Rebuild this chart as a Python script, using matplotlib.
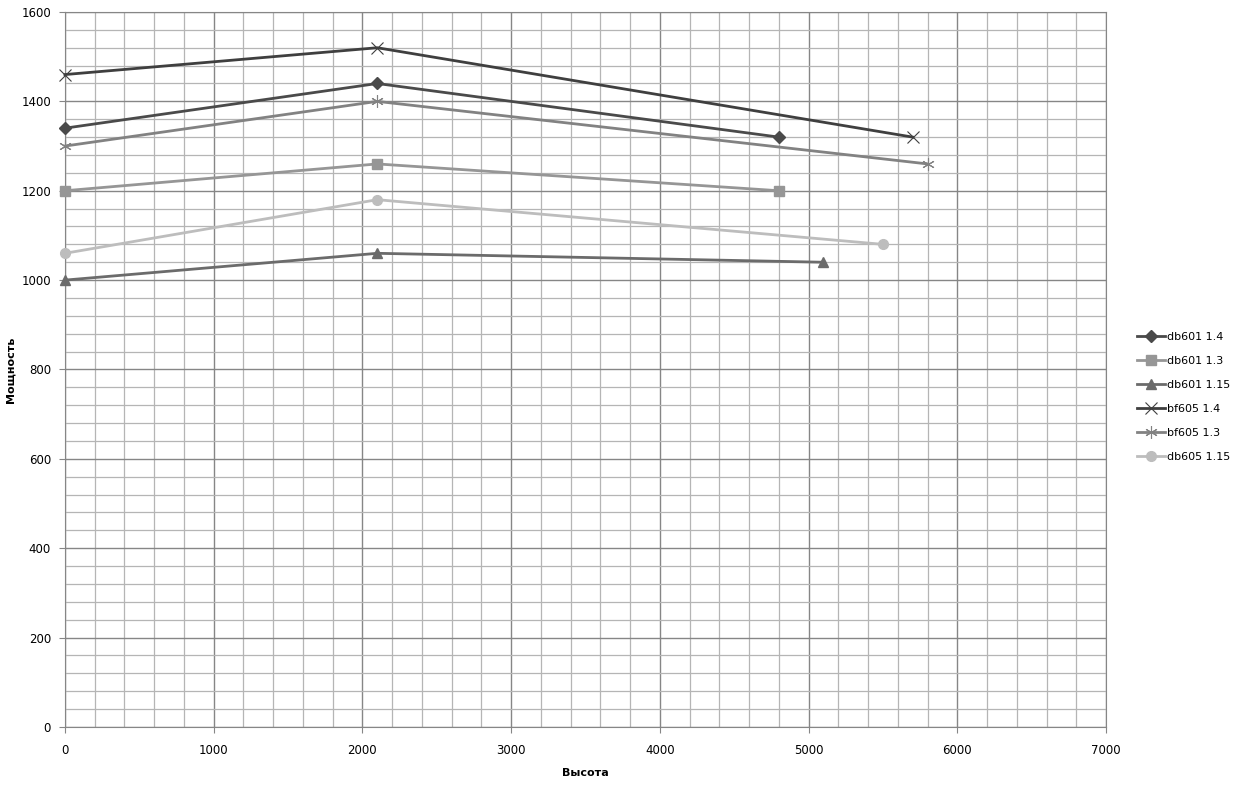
import matplotlib
matplotlib.use('Agg')
import matplotlib.pyplot as plt
from matplotlib.ticker import MultipleLocator

alt = {
    'db601 1.4': [0, 2100, 4800],
    'db601 1.3': [0, 2100, 4800],
    'db601 1.15': [0, 2100, 5100],
    'bf605 1.4': [0, 2100, 5700],
    'bf605 1.3': [0, 2100, 5800],
    'db605 1.15': [0, 2100, 5500],
}
power = {
    'db601 1.4': [1340, 1440, 1320],
    'db601 1.3': [1200, 1260, 1200],
    'db601 1.15': [1000, 1060, 1040],
    'bf605 1.4': [1460, 1520, 1320],
    'bf605 1.3': [1300, 1400, 1260],
    'db605 1.15': [1060, 1180, 1080],
}
styles = {
    'db601 1.4': ('#4a4a4a', 'D', 6),
    'db601 1.3': ('#969696', 's', 7),
    'db601 1.15': ('#6b6b6b', '^', 7),
    'bf605 1.4': ('#3f3f3f', 'x', 8),
    'bf605 1.3': ('#828282', (6, 2, 0), 9),
    'db605 1.15': ('#bdbdbd', 'o', 7),
}

plt.rcParams['font.family'] = ['DejaVu Sans']
fig = plt.figure(figsize=(12.42, 7.89), dpi=100)
ax = fig.add_axes([0.0523, 0.0786, 0.8382, 0.9062])

for name in alt:
    c, m, ms = styles[name]
    mew = 0.8 if m in ('x',) or isinstance(m, tuple) else 1
    ax.plot(alt[name], power[name], color=c, lw=2, marker=m, ms=ms,
            mec=c, mfc=c, mew=mew, label=name, zorder=3, clip_on=False)

ax.set_xlim(0, 7000)
ax.set_ylim(0, 1600)
ax.xaxis.set_major_locator(MultipleLocator(1000))
ax.xaxis.set_minor_locator(MultipleLocator(200))
ax.yaxis.set_major_locator(MultipleLocator(200))
ax.yaxis.set_minor_locator(MultipleLocator(40))
ax.grid(which='major', color='#868686', lw=1)
ax.grid(which='minor', color='#b5b5b5', lw=0.9)
ax.set_axisbelow(True)
for s in ax.spines.values():
    s.set_color('#868686')
ax.tick_params(which='major', length=4, color='#868686', labelsize=8.5, pad=6)
ax.tick_params(which='minor', length=0)
ax.tick_params(axis='x', pad=8)

ax.set_xlabel('Высота', fontsize=8, fontweight='bold', labelpad=8)
ax.set_ylabel('Мощность', fontsize=8, fontweight='bold', labelpad=4)

ax.legend(loc='center left', bbox_to_anchor=(1.02, 0.4615), frameon=False,
          fontsize=8, handlelength=2.5, labelspacing=1.25, handletextpad=0.2)

fig.savefig('out.png', dpi=100)
